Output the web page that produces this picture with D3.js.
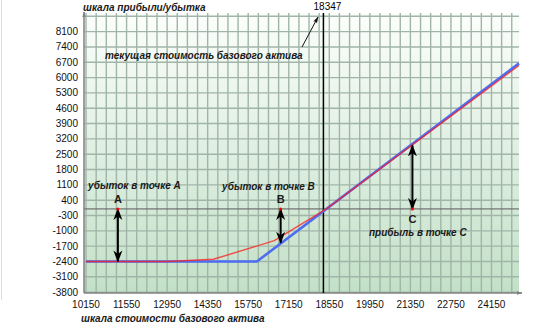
<!DOCTYPE html>
<html><head><meta charset="utf-8">
<script src="https://cdn.jsdelivr.net/npm/d3@7"></script>
<style>body{margin:0;background:#fff}svg{display:block}</style>
</head><body><svg id="c" width="538" height="328"></svg>
<script>
const xTicks = [10150, 11550, 12950, 14350, 15750, 17150, 18550, 19950, 21350, 22750, 24150];
const yTicks = [-3800, -3100, -2400, -1700, -1000, -300, 400, 1100, 1800, 2500, 3200, 3900, 4600, 5300, 6000, 6700, 7400, 8100];
const currentPrice = 18347;
const blueX = [10150, 16050, 25100];
const blueY = [-2400, -2400, 6650];
const redX = [10150, 12950, 14550, 16650, 18450, 25100];
const redY = [-2400, -2400, -2300, -1450, 0, 6550];
const pointNames = ["A", "B", "C"];
const pointX = [11250, 16870, 21420];
const pointFrom = [0, 0, 2900];
const pointTo = [-2400, -1550, 0];
const pointLabels = ["убыток в точке A", "убыток в точке B", "прибыль в точке C"];
const yTitle = "шкала прибыли/убытка";
const xTitle = "шкала стоимости базового актива";
const currentLabel = "текущая стоимость базового актива";

const L = 84, R = 519, T = 13, B = 293;
const svg = d3.select("#c");
const x = d3.scaleLinear().domain([10080, 25100]).range([L, R]);
const y = d3.scaleLinear().domain([-3840, 8950]).range([B, T]);

const defs = svg.append("defs");
const g = defs.append("linearGradient").attr("id", "bg").attr("x1", 0).attr("y1", 0).attr("x2", 0).attr("y2", 1);
g.append("stop").attr("offset", "0%").attr("stop-color", "#fcfefc");
g.append("stop").attr("offset", "100%").attr("stop-color", "#c2e0c7");
defs.append("marker").attr("id", "ah").attr("viewBox", "0 -5 12 10").attr("refX", 11).attr("refY", 0)
  .attr("markerUnits", "userSpaceOnUse").attr("markerWidth", 12).attr("markerHeight", 10).attr("orient", "auto-start-reverse")
  .append("path").attr("d", "M0,-4.5L12,0L0,4.5L3.5,0Z").attr("fill", "#000");
defs.append("marker").attr("id", "ahs").attr("viewBox", "0 -5 10 10").attr("refX", 9).attr("refY", 0)
  .attr("markerUnits", "userSpaceOnUse").attr("markerWidth", 8).attr("markerHeight", 7).attr("orient", "auto")
  .append("path").attr("d", "M0,-3L10,0L0,3L2,0Z").attr("fill", "#111");
defs.append("marker").attr("id", "ahg").attr("viewBox", "0 -5 10 10").attr("refX", 9).attr("refY", 0)
  .attr("markerUnits", "userSpaceOnUse").attr("markerWidth", 6).attr("markerHeight", 6).attr("orient", "auto")
  .append("path").attr("d", "M0,-3L10,0L0,3Z").attr("fill", "#808080");

svg.append("line").attr("x1", 1.5).attr("x2", 1.5).attr("y1", 0).attr("y2", 300).attr("stroke", "#ddd");

svg.append("rect").attr("x", L).attr("y", T).attr("width", R - L).attr("height", B - T).attr("fill", "url(#bg)");

// grid
const vGrid = d3.range(10150, 25100, 350);
svg.append("g").selectAll("line").data(vGrid).join("line")
  .attr("x1", d => x(d)).attr("x2", d => x(d)).attr("y1", T).attr("y2", B)
  .attr("stroke", "#a0b5a8").attr("stroke-width", 1.4);
const hGrid = d3.range(-3800, 8950, 700);
svg.append("g").selectAll("line").data(hGrid).join("line")
  .attr("x1", L).attr("x2", R).attr("y1", d => y(d)).attr("y2", d => y(d))
  .attr("stroke", "#a0b5a8").attr("stroke-width", 1.4);

// zero line
svg.append("line").attr("x1", L).attr("x2", R).attr("y1", y(0)).attr("y2", y(0)).attr("stroke", "#5a5a5a").attr("stroke-width", 1);

// axes
svg.append("line").attr("x1", L).attr("x2", L).attr("y1", B).attr("y2", T - 1).attr("stroke", "#808080").attr("stroke-width", 1.5).attr("marker-end", "url(#ahg)");
svg.append("line").attr("x1", L).attr("x2", R + 3).attr("y1", B).attr("y2", B).attr("stroke", "#808080").attr("stroke-width", 1.5).attr("marker-end", "url(#ahg)");

// tick labels
svg.append("g").selectAll("text").data(yTicks).join("text")
  .attr("x", L - 6).attr("y", d => y(d)).attr("dy", "0.35em").attr("text-anchor", "end")
  .attr("font-family", "Liberation Sans, Arial, sans-serif").attr("font-size", 10).attr("fill", "#111").text(d => d);
svg.append("g").selectAll("text").data(xTicks).join("text")
  .attr("x", d => x(d)).attr("y", 308).attr("text-anchor", "middle")
  .attr("font-family", "Liberation Sans, Arial, sans-serif").attr("font-size", 10).attr("fill", "#111").text(d => d);

// current price line
svg.append("line").attr("x1", x(currentPrice)).attr("x2", x(currentPrice)).attr("y1", T).attr("y2", B).attr("stroke", "#000").attr("stroke-width", 1.5);
svg.append("text").attr("x", x(currentPrice) + 4).attr("y", 10).attr("text-anchor", "middle")
  .attr("font-family", "Liberation Sans, Arial, sans-serif").attr("font-size", 10).attr("fill", "#000").text(currentPrice);

// payoff lines
const line = d3.line().x(d => x(d[0])).y(d => y(d[1]));
svg.append("path").datum(d3.zip(blueX, blueY)).attr("d", line).attr("fill", "none").attr("stroke", "#4d6cf2").attr("stroke-width", 2.6);
svg.append("path").datum(d3.zip(redX, redY)).attr("d", line).attr("fill", "none").attr("stroke", "#ff1a1a").attr("stroke-width", 1.4).attr("stroke-opacity", 0.75);

// titles
const bi = sel => sel.attr("font-family", "Liberation Sans, Arial, sans-serif").attr("font-size", 10).attr("font-weight", "bold").attr("font-style", "italic").attr("fill", "#1a1a1a");
svg.append("text").attr("x", 83).attr("y", 11).text(yTitle).call(bi);
svg.append("text").attr("x", 81).attr("y", 322).text(xTitle).call(bi);
svg.append("text").attr("x", 105).attr("y", 59).text(currentLabel).call(bi);
svg.append("line").attr("x1", 302).attr("y1", 47).attr("x2", 318).attr("y2", 17).attr("stroke", "#111").attr("stroke-width", 1).attr("marker-end", "url(#ahs)");

// point annotations
const pts = pointNames.map((n, i) => ({n, x: pointX[i], from: pointFrom[i], to: pointTo[i], label: pointLabels[i]}));
const labelPos = [{lx: 88, ly: 189, ny: 203}, {lx: 222, ly: 190, ny: 203}, {lx: 369, ly: 236, ny: 223}];
pts.forEach((p, i) => {
  svg.append("line").attr("x1", x(p.x)).attr("x2", x(p.x)).attr("y1", y(p.from)).attr("y2", y(p.to))
    .attr("stroke", "#000").attr("stroke-width", 2)
    .attr("marker-start", "url(#ah)").attr("marker-end", "url(#ah)");
  svg.append("circle").attr("cx", x(p.x)).attr("cy", y(0)).attr("r", 1.5).attr("fill", "#ff0000");
  svg.append("text").attr("x", labelPos[i].lx).attr("y", labelPos[i].ly).text(p.label).call(bi);
  svg.append("text").attr("x", x(p.x)).attr("y", labelPos[i].ny).attr("text-anchor", "middle")
    .attr("font-family", "Liberation Sans, Arial, sans-serif").attr("font-size", 11).attr("font-weight", "bold").attr("fill", "#1a1a1a").text(p.n);
});
</script></body></html>
